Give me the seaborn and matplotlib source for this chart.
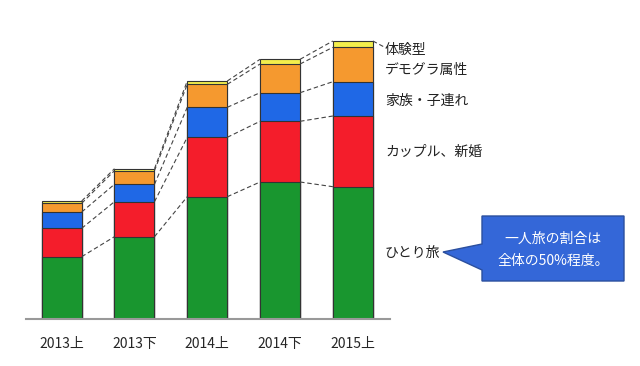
import numpy as np
import pandas as pd
import matplotlib
matplotlib.use("Agg")
import matplotlib.pyplot as plt
from matplotlib.patches import Polygon
import seaborn as sns

# Data (arbitrary units)
PERIODS = ["2013上", "2013下", "2014上", "2014下", "2015上"]
SEGMENTS = ["ひとり旅", "カップル、新婚", "家族・子連れ", "デモグラ属性", "体験型"]
SOLO = [62.6, 82.6, 122.6, 137.3, 132.6]
COUPLE = [28.4, 35.0, 59.4, 60.7, 70.7]
FAMILY = [16.3, 17.4, 30.0, 28.6, 34.3]
DEMOGRA = [8.7, 13.6, 23.0, 28.7, 34.4]
EXPERIENCE = [2.3, 2.0, 3.3, 4.7, 6.3]
COLORS = ["#19962f", "#f41d2b", "#1f68e6", "#f5992f", "#f3ee4c"]

sns.set_style("white")
plt.rcParams["font.family"] = ["Noto Sans CJK JP", "DejaVu Sans"]

W, H = 640, 366
fig = plt.figure(figsize=(W / 100, H / 100), dpi=100)
ax = fig.add_axes([26 / W, 46.7 / H, 364 / W, 319.3 / H])

series = [SOLO, COUPLE, FAMILY, DEMOGRA, EXPERIENCE]
cum = np.cumsum(np.array(series), axis=0)
df = pd.DataFrame({"period": PERIODS})
bar_w = 0.55

# draw cumulative totals from top to bottom so each layer overlays the previous
for k in range(len(SEGMENTS) - 1, -1, -1):
    df["v"] = cum[k]
    sns.barplot(data=df, x="period", y="v", color=COLORS[k], width=bar_w,
                edgecolor="#333333", linewidth=0.8, saturation=1, ax=ax)

# dashed connectors between the segment tops of neighbouring bars
for k in range(len(SEGMENTS)):
    for i in range(len(PERIODS) - 1):
        ax.plot([i + bar_w / 2, i + 1 - bar_w / 2], [cum[k][i], cum[k][i + 1]],
                ls=(0, (4, 2.5)), color="#444444", lw=0.8)
ax.plot([4 + bar_w / 2, 4.43], [cum[-1][-1], cum[-1][-1] - 6],
        ls=(0, (4, 2.5)), color="#444444", lw=0.8, clip_on=False)

ax.set_xlim(-0.49, 4.51)
ax.set_ylim(0, 319.3)
ax.set_xlabel("")
ax.set_ylabel("")
ax.set_yticks([])
ax.tick_params(axis="x", length=0, pad=13, labelsize=10)
for s in ["top", "left", "right"]:
    ax.spines[s].set_visible(False)
ax.spines["bottom"].set_color("#999999")
ax.spines["bottom"].set_linewidth(1.5)

# segment labels on the right
label_y = [253, 152, 101, 70, 50]
for name, y in zip(SEGMENTS, label_y):
    fig.text(385 / W, 1 - y / H, name, fontsize=10, va="center", ha="left",
             color="#222222")

# callout box
pts = [(482, 216), (624, 216), (624, 281), (482, 281), (482, 270),
       (443, 252), (482, 244)]
pts = [(x / W, 1 - y / H) for x, y in pts]
fig.patches.append(Polygon(pts, closed=True, transform=fig.transFigure,
                           facecolor="#3467d8", edgecolor="#2b4f9e", lw=1))
fig.text(553 / W, 1 - 239 / H, "一人旅の割合は", fontsize=10, color="white",
         ha="center", va="center")
fig.text(553 / W, 1 - 261 / H, "全体の50%程度。", fontsize=10, color="white",
         ha="center", va="center")

fig.savefig("out.png", dpi=100)
